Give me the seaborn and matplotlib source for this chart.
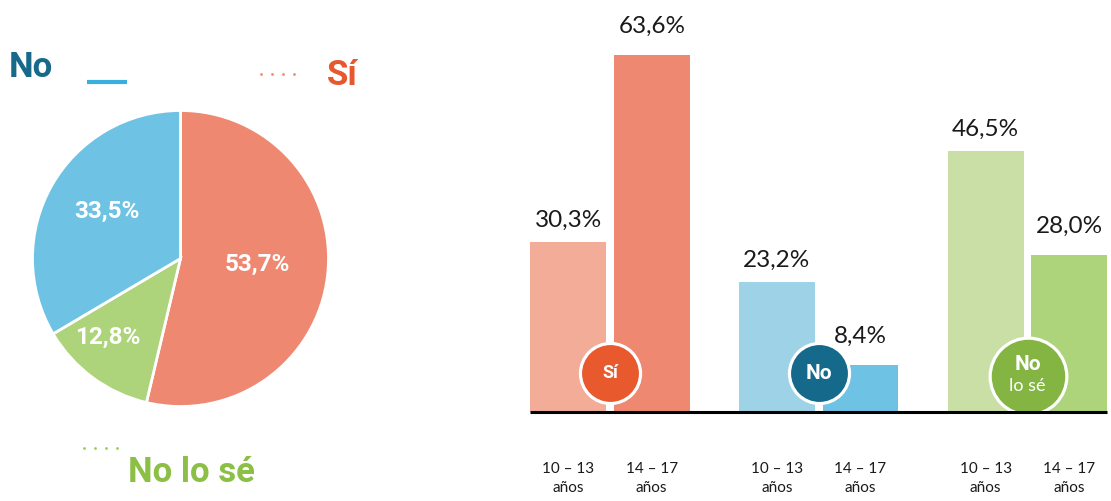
import numpy as np
import pandas as pd
import matplotlib
matplotlib.use("Agg")
import matplotlib.pyplot as plt
from matplotlib.lines import Line2D
import seaborn as sns

# ---------------- data ----------------
pie_labels = ["Sí", "No lo sé", "No"]
pie_values = [53.7, 12.8, 33.5]

groups = ["Sí", "No", "No lo sé"]
ages = ["10 – 13\naños", "14 – 17\naños"]
vals_10_13 = [30.3, 23.2, 46.5]
vals_14_17 = [63.6, 8.4, 28.0]

# ---------------- style ----------------
sns.set_theme(style="white")
plt.rcParams["font.family"] = ["Lato", "DejaVu Sans"]
BOLD = ["Roboto", "DejaVu Sans"]

W, H = 1111, 501
fig = plt.figure(figsize=(W / 100, H / 100), dpi=100)
fig.patch.set_facecolor("white")

def fx(px):
    return px / W

def fy(py):
    return 1 - py / H

pie_colors = {"Sí": "#EE8871", "No": "#6EC2E3", "No lo sé": "#AED47B"}
bar_colors = [["#F2AC98", "#EE8871"],
              ["#9DD2E7", "#6EC2E3"],
              ["#C9DFA6", "#AED47B"]]
circle_colors = ["#E85A2D", "#15698A", "#84B543"]

# ---------------- pie ----------------
cx, cy, r = 180.5, 258.5, 148
ax_pie = fig.add_axes([fx(cx - r), fy(cy + r), 2 * r / W, 2 * r / H])
ax_pie.pie(pie_values, colors=[pie_colors[l] for l in pie_labels],
           startangle=90, counterclock=False,
           wedgeprops=dict(edgecolor="white", linewidth=2))
ax_pie.set_xlim(-1, 1)
ax_pie.set_ylim(-1, 1)
ax_pie.set_aspect("equal")
ax_pie.axis("off")
pie_text_pos = {"Sí": (0.52, -0.04), "No": (-0.50, 0.32), "No lo sé": (-0.49, -0.53)}
for lab, v in zip(pie_labels, pie_values):
    px_, py_ = pie_text_pos[lab]
    ax_pie.text(px_, py_, f"{v:.1f}%".replace(".", ","), color="white",
                fontsize=17.5, fontweight="bold", family=BOLD,
                ha="center", va="center")

# pie titles
fig.text(fx(9), fy(77), "No", color="#17698A", fontsize=25, fontweight="bold",
         family=BOLD, va="baseline", ha="left")
fig.text(fx(327), fy(85), "Sí", color="#E8582F", fontsize=25, fontweight="bold",
         family=BOLD, va="baseline", ha="left")
fig.text(fx(128), fy(482), "No lo sé", color="#8BBF45", fontsize=25, fontweight="bold",
         family=BOLD, va="baseline", ha="left")
fig.add_artist(Line2D([fx(87), fx(127)], [fy(82), fy(82)], color="#3AAEDD",
                      lw=3, solid_capstyle="butt", transform=fig.transFigure))
fig.add_artist(Line2D([fx(261), fx(272), fx(283), fx(294)], [fy(74)] * 4,
                      ls="none", marker="o", ms=2, color="#F08A70",
                      mec="none", transform=fig.transFigure))
fig.add_artist(Line2D([fx(84), fx(95), fx(106), fx(117)], [fy(448)] * 4,
                      ls="none", marker="o", ms=2, color="#9ACB5E",
                      mec="none", transform=fig.transFigure))

# ---------------- bars ----------------
df = pd.DataFrame({
    "grupo": groups * 2,
    "edad": [ages[0]] * 3 + [ages[1]] * 3,
    "valor": vals_10_13 + vals_14_17,
})

base_px = 412
px_per_unit = 5.61
ax = fig.add_axes([fx(520), fy(base_px), (W - 520) / W, base_px / H])
sns.barplot(data=df, x="grupo", y="valor", hue="edad", order=groups,
            hue_order=ages, dodge=True, width=0.8, gap=0.09,
            legend=False, ax=ax, errorbar=None, saturation=1)

unit_px = 208.75
ax.set_xlim((520 - 610) / unit_px, (W - 610) / unit_px)
ax.set_ylim(0, base_px / px_per_unit)

lefts, rights = [], []
for h, cont in enumerate(ax.containers):
    for g, bar in enumerate(cont):
        bar.set_facecolor(bar_colors[g][h])
        bar.set_edgecolor("none")
        xc = bar.get_x() + bar.get_width() / 2
        lefts.append(bar.get_x())
        rights.append(bar.get_x() + bar.get_width())
        val = bar.get_height()
        off = 11 if h == 0 else 16
        ax.annotate(f"{val:.1f}%".replace(".", ","), (xc, val),
                    xytext=(0, off), textcoords="offset points",
                    ha="center", va="baseline", fontsize=17.5, color="#1a1a1a")

# baseline
ax.hlines(0, min(lefts), max(rights), color="black", lw=2.2, zorder=5, clip_on=False)

# circles
circle_y = [6.95, 6.95, 6.45]
circle_s = [1870, 1870, 3050]
for g, name in enumerate(groups):
    ax.scatter([g], [circle_y[g]], s=circle_s[g], color=circle_colors[g],
               edgecolors="white", linewidths=2.3, zorder=4)
ax.text(0, circle_y[0], "Sí", color="white", fontsize=13, fontweight="bold",
        family=BOLD, ha="center", va="center", zorder=6)
ax.text(1, circle_y[1], "No", color="white", fontsize=15, fontweight="bold",
        family=BOLD, ha="center", va="center", zorder=6)
ax.text(2, circle_y[2] + 2.0, "No", color="white", fontsize=15, fontweight="bold",
        family=BOLD, ha="center", va="center", zorder=6)
ax.text(2, circle_y[2] - 1.9, "lo sé", color="white", fontsize=13,
        ha="center", va="center", zorder=6)

# ticks
order_centers = []
order_labels = []
for g in range(3):
    for h in range(2):
        bar = ax.containers[h][g]
        order_centers.append(bar.get_x() + bar.get_width() / 2)
        order_labels.append(ages[h])
ax.set_xticks(order_centers)
ax.set_xticklabels(order_labels, fontsize=11, color="#1a1a1a", linespacing=1.45)
ax.tick_params(axis="x", length=0, pad=36)
ax.set_yticks([])
ax.set_xlabel("")
ax.set_ylabel("")
for s in ax.spines.values():
    s.set_visible(False)
ax.set_facecolor("none")

fig.savefig("out.png", dpi=100, facecolor="white")
